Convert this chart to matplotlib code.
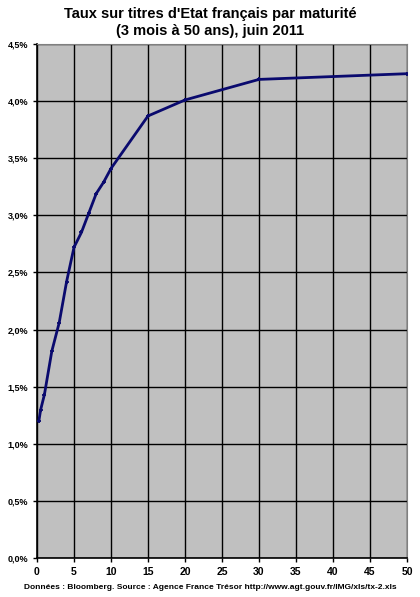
import matplotlib
matplotlib.use("Agg")
import matplotlib.pyplot as plt
from matplotlib.ticker import FuncFormatter

# maturities (years) and yields (%)
maturities = [0.25, 0.5, 1, 2, 3, 4, 5, 6, 7, 8, 9, 10, 15, 20, 30, 50]
yields = [1.20, 1.30, 1.43, 1.81, 2.06, 2.42, 2.72, 2.85, 3.02, 3.19, 3.29, 3.41, 3.87, 4.01, 4.19, 4.24]

x_ticks = list(range(0, 51, 5))
y_ticks = [i * 0.5 for i in range(10)]

plt.rcParams['font.family'] = ['Liberation Sans', 'DejaVu Sans']

fig = plt.figure(figsize=(4.2, 5.97), dpi=100)
ax = fig.add_axes([37 / 420, 1 - 558 / 597, 370 / 420, 514 / 597])
ax.set_facecolor('#c0c0c0')

ax.plot(maturities, yields, color='#0a0a6e', linewidth=2.0, marker='+',
        markersize=3.5, markeredgewidth=1.3, zorder=3)

ax.set_xlim(0, 50)
ax.set_ylim(0, 4.5)
ax.set_xticks(x_ticks)
ax.set_yticks(y_ticks)
ax.yaxis.set_major_formatter(FuncFormatter(lambda v, p: f"{v:.1f}%".replace('.', ',')))
ax.grid(True, color='black', linewidth=1.0)
ax.set_axisbelow(True)

for s in ['top', 'right']:
    ax.spines[s].set_color('#808080')
for s in ['left', 'bottom']:
    ax.spines[s].set_linewidth(1.2)

ax.tick_params(axis='both', labelsize=6.5, length=3, width=1)
for lbl in ax.get_xticklabels() + ax.get_yticklabels():
    lbl.set_fontweight('bold')
ax.tick_params(axis='x', labelsize=7.5)

fig.text(0.5, 0.988, "Taux sur titres d'Etat français par maturité\n(3 mois à 50 ans), juin 2011",
         ha='center', va='top', fontsize=10.5, fontweight='bold', linespacing=1.25)
fig.text(0.5, 0.01, "Données : Bloomberg. Source : Agence France Trésor http://www.agt.gouv.fr/IMG/xls/tx-2.xls",
         ha='center', va='bottom', fontsize=6.0, fontweight='bold')

fig.savefig('out.png', dpi=100)
